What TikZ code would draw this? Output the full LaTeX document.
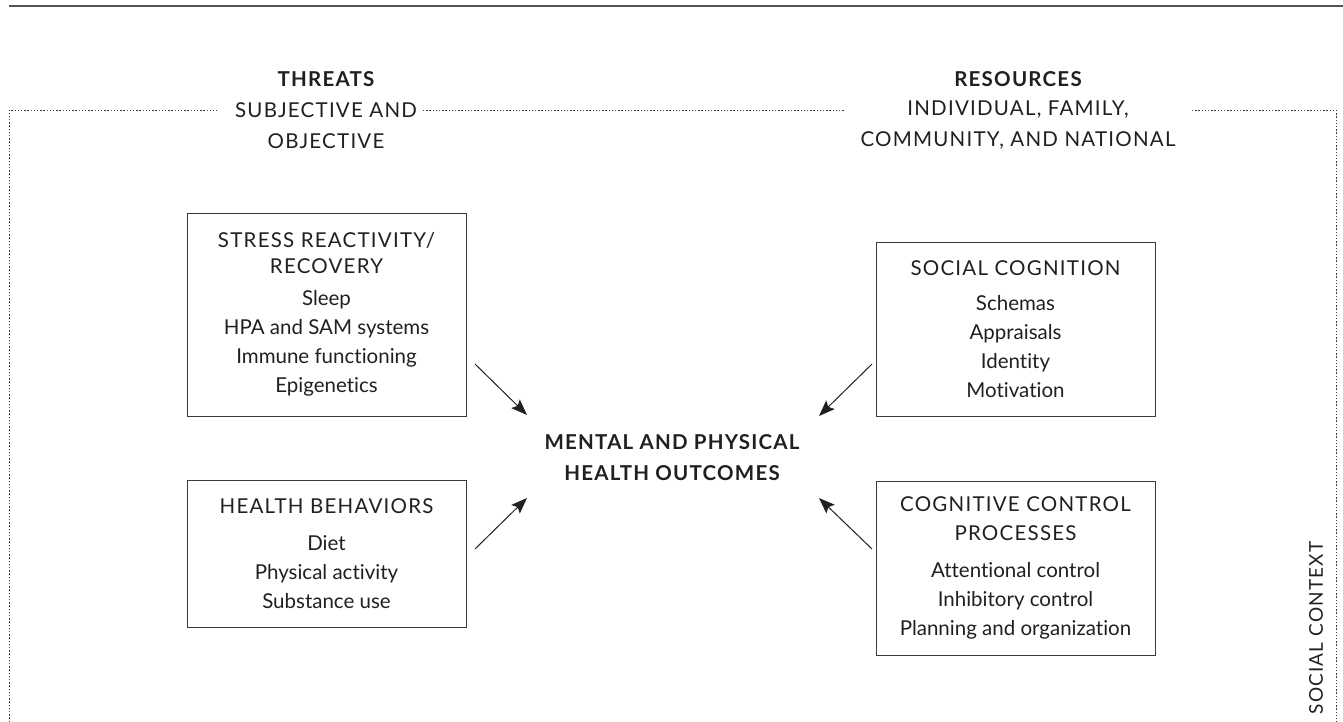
\documentclass[tikz,border=0pt]{standalone}
\usepackage{fontspec}
\setmainfont[Ligatures=NoCommon]{Lato}
\newfontfamily\capsfont[LetterSpace=6,Ligatures=NoCommon]{Lato}
\newfontfamily\capsbold[LetterSpace=6]{Lato Bold}
\usetikzlibrary{arrows.meta}
\definecolor{ink}{HTML}{231F20}
\definecolor{rulegray}{HTML}{555555}
\definecolor{boxgray}{HTML}{3A3A3A}
\newcommand\bxfont{\fontsize{20.5}{29}\selectfont}
\begin{document}
\begin{tikzpicture}[x=1pt,y=1pt,
  every node/.style={text=ink, inner sep=0pt},
  box/.style={draw=boxgray, line width=1pt, minimum width=279pt, align=center, font=\bxfont},
  label/.style={align=center, font=\fontsize{20.5}{31}\selectfont},
  dotline/.style={draw=boxgray, line width=0.9pt, dash pattern=on 1.4pt off 1.8pt},
  arr/.style={-{Stealth[length=16pt,width=12pt,inset=3pt]}, line width=1pt, draw=ink}]
\useasboundingbox (0,0) rectangle (1343,-722);
% top rule
\coordinate (r1) at (9,-6);
\coordinate (r2) at (1343,-6);
\draw[rulegray, line width=1.6pt] (r1) -- (r2);
% headings
\node[label] (thr) at (326,-79) {\capsbold THREATS};
\node[label] (thrsub) at (326,-125.5) {\capsfont SUBJECTIVE AND\\\capsfont OBJECTIVE};
\node[label] (res) at (1018,-79) {\capsbold RESOURCES};
\node[label] (ressub) at (1018,-125.5) {\capsfont INDIVIDUAL, FAMILY,\\\capsfont COMMUNITY, AND NATIONAL};
% dotted border
\coordinate (bl) at (9,-722);
\coordinate (tl) at (9,-110);
\coordinate (g1) at (217,-110);
\coordinate (g2) at (423,-110);
\coordinate (g3) at (845,-110);
\coordinate (g4) at (1192,-110);
\coordinate (tr) at (1336,-110);
\coordinate (br) at (1336,-722);
\draw[dotline] (bl) -- (tl) -- (g1);
\draw[dotline] (g2) -- (g3);
\draw[dotline] (g4) -- (tr) -- (br);
% boxes
\node[box, minimum height=203pt] (b1) at (326.5,-314.5)
  {{\capsfont STRESS REACTIVITY/}\\[-3pt]{\capsfont RECOVERY}\\[3pt]Sleep\\HPA and SAM systems\\Immune functioning\\Epigenetics};
\node[box, minimum height=147pt] (b2) at (326.5,-553.5)
  {{\capsfont HEALTH BEHAVIORS}\\[8pt]Diet\\Physical activity\\Substance use};
\node[box, minimum height=174pt] (b3) at (1015.5,-329)
  {{\capsfont SOCIAL COGNITION}\\[6pt]Schemas\\Appraisals\\Identity\\Motivation};
\node[box, minimum height=174pt] (b4) at (1015.5,-568)
  {{\capsfont COGNITIVE CONTROL}\\{\capsfont PROCESSES}\\[8pt]Attentional control\\Inhibitory control\\Planning and organization};
% centre
\node[label] (out) at (672,-457.5)
  {\capsbold MENTAL AND PHYSICAL\\\capsbold HEALTH OUTCOMES};
% arrows
\coordinate (a1s) at (475,-364);
\coordinate (a1e) at (527,-415);
\coordinate (a2s) at (475,-549);
\coordinate (a2e) at (527,-498);
\coordinate (a3s) at (872,-364);
\coordinate (a3e) at (819,-416);
\coordinate (a4s) at (872,-549);
\coordinate (a4e) at (819,-498);
\draw[arr] (a1s) -- (a1e);
\draw[arr] (a2s) -- (a2e);
\draw[arr] (a3s) -- (a3e);
\draw[arr] (a4s) -- (a4e);
% side label
\node[rotate=90, font=\fontsize{19}{20}\selectfont] (soc) at (1316,-628) {\capsfont SOCIAL CONTEXT};
\end{tikzpicture}
\end{document}
